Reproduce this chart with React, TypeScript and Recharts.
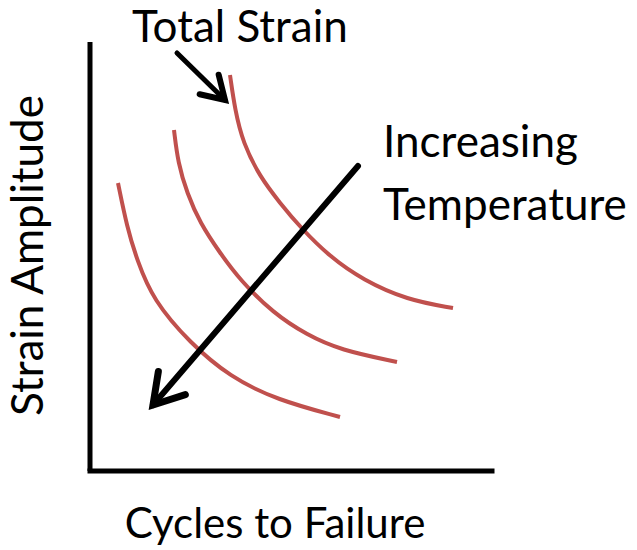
import React from "react";
import { LineChart, Line, XAxis, YAxis, ReferenceLine } from "recharts";

const lowCurve = [
  { x: 28, y: 288 }, { x: 37, y: 244 }, { x: 47, y: 211 }, { x: 63, y: 171 },
  { x: 100, y: 128 }, { x: 140, y: 94 }, { x: 187, y: 71 }, { x: 250, y: 54 },
];
const midCurve = [
  { x: 84, y: 341 }, { x: 88, y: 308 }, { x: 97, y: 278 }, { x: 110, y: 248 },
  { x: 130, y: 218 }, { x: 150, y: 191 }, { x: 183, y: 158 }, { x: 217, y: 136 },
  { x: 250, y: 121 }, { x: 307, y: 109 },
];
const highCurve = [
  { x: 140, y: 396 }, { x: 145, y: 361 }, { x: 153, y: 328 }, { x: 170, y: 294 },
  { x: 190, y: 268 }, { x: 210, y: 244 }, { x: 240, y: 214 }, { x: 273, y: 191 },
  { x: 317, y: 171 }, { x: 363, y: 163 },
];
const curves = [lowCurve, midCurve, highCurve];

// arrows: [tail, tip]
const tempArrow = [{ x: 268, y: 305 }, { x: 63, y: 66 }];
const strainArrow = [{ x: 87, y: 418 }, { x: 135, y: 371 }];
const tempLabel = ["Increasing", "Temperature"];
const strainLabel = ["Total Strain"];

const xDomain = [0, 402];
const yDomain = [0, 429];

const FONT = "Lato, 'Open Sans', sans-serif";
const RED = "#c0504d";

function makeArrow(head: number, width: number, lines: string[], dx: number, dy: number, gap: number) {
  return (p: any) => {
    const { x1, y1, x2, y2 } = p;
    const ang = Math.atan2(y1 - y2, x1 - x2);
    const spread = 0.55;
    const w1x = x2 + head * Math.cos(ang + spread);
    const w1y = y2 + head * Math.sin(ang + spread);
    const w2x = x2 + head * Math.cos(ang - spread);
    const w2y = y2 + head * Math.sin(ang - spread);
    return (
      <g>
        <line x1={x1} y1={y1} x2={x2} y2={y2} stroke="#000" strokeWidth={width} strokeLinecap="round" />
        <polyline
          points={`${w1x},${w1y} ${x2},${y2} ${w2x},${w2y}`}
          fill="none"
          stroke="#000"
          strokeWidth={width + 1}
          strokeLinecap="round"
        />
        {lines.map((t, i) => (
          <text key={t} x={x1 + dx} y={y1 + dy + i * gap} fontFamily={FONT} fontSize={44} fill="#000">
            {t}
          </text>
        ))}
      </g>
    );
  };
}

const XTitle = (props: any) => {
  const vb = props.viewBox;
  return (
    <text x={vb.x + vb.width / 2 - 16} y={vb.y + 67} textAnchor="middle" fontFamily={FONT} fontSize={42} fill="#000">
      Cycles to Failure
    </text>
  );
};

const YTitle = (props: any) => {
  const vb = props.viewBox;
  const cx = vb.x - 47;
  const cy = vb.y + vb.height / 2 - 1;
  return (
    <text x={cx} y={cy} textAnchor="middle" transform={`rotate(-90 ${cx} ${cy})`} fontFamily={FONT} fontSize={44} fill="#000">
      Strain Amplitude
    </text>
  );
};

export default function App() {
  return (
    <div style={{ position: "absolute", left: 0, top: 0, width: 637, height: 550, background: "#fff" }}>
      <LineChart width={637} height={550} margin={{ top: 42, right: 145, bottom: 79, left: 90 }}>
        <XAxis type="number" dataKey="x" domain={xDomain} hide />
        <YAxis type="number" dataKey="y" domain={yDomain} hide />
        <ReferenceLine x={0} stroke="#000" strokeWidth={5} label={<YTitle />} />
        <ReferenceLine y={0} stroke="#000" strokeWidth={5} strokeLinecap="square" label={<XTitle />} />
        {curves.map((c, i) => (
          <Line
            key={i}
            data={c}
            dataKey="y"
            type="basis"
            stroke={RED}
            strokeWidth={4}
            dot={false}
            activeDot={false}
            isAnimationActive={false}
          />
        ))}
        <ReferenceLine segment={tempArrow} ifOverflow="visible" shape={makeArrow(34, 6, tempLabel, 25, -9, 63)} />
        <ReferenceLine segment={strainArrow} ifOverflow="visible" shape={makeArrow(26, 5, strainLabel, -45, -11, 0)} />
      </LineChart>
    </div>
  );
}
